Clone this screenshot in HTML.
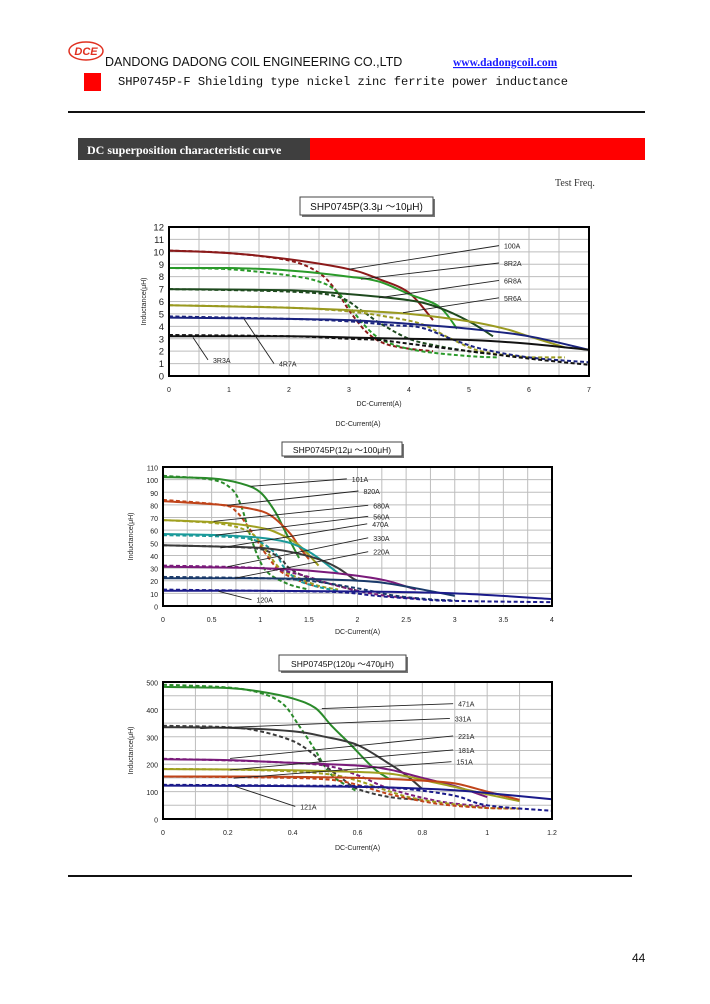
<!DOCTYPE html>
<html><head><meta charset="utf-8"><style>
html,body{margin:0;padding:0;background:#fff;}
svg{display:block;}
</style></head><body>
<svg id="pg" width="710" height="1004" viewBox="0 0 710 1004" xmlns="http://www.w3.org/2000/svg">
  <g>
    <ellipse cx="86" cy="51" rx="17" ry="9" fill="#fff" stroke="#e03020" stroke-width="1.5"/>
    <text x="86" y="55" font-family="Liberation Sans, sans-serif" font-size="11" font-weight="bold" font-style="italic" fill="#e03020" text-anchor="middle">DCE</text>
    <text x="105" y="66" font-family="Liberation Sans, sans-serif" font-size="12.5" fill="#111">DANDONG DADONG COIL ENGINEERING CO.,LTD</text>
    <text x="453" y="66" font-family="Liberation Serif, serif" font-size="11.5" font-weight="bold" fill="#1a1aff" text-decoration="underline">www.dadongcoil.com</text>
    <rect x="84" y="73" width="17" height="18" fill="#ff0000"/>
    <text x="118" y="85" font-family="Liberation Mono, monospace" font-size="12.1" fill="#111">SHP0745P-F  Shielding type nickel zinc ferrite power inductance</text>
    <rect x="68" y="111" width="577" height="2" fill="#111"/>
    <rect x="78" y="138" width="232" height="22" fill="#3f3f3f"/>
    <rect x="310" y="138" width="335" height="22" fill="#ff0000"/>
    <text x="87" y="154" font-family="Liberation Serif, serif" font-size="12" font-weight="bold" fill="#fff">DC superposition characteristic curve</text>
    <text x="555" y="186" font-family="Liberation Serif, serif" font-size="10" fill="#333">Test  Freq.</text>
  </g>
  <g id="charts"></g>
  <rect x="68" y="875" width="564" height="2" fill="#111"/>
  <text x="632" y="962" font-family="Liberation Sans, sans-serif" font-size="12" fill="#111">44</text>
</svg>
<script>
// ===== Chart 1 data (3.3uH ~ 10uH) =====
const c1Names = ["100A","8R2A","6R8A","5R6A","4R7A","3R3A"];
const c1Colors = ["#8b1a1a","#2a9a2a","#1e4a1e","#9a9a20","#1a237e","#111111"];
const c1SolidX = [[0,1,2,3,3.5,4,4.4],[0,1,2,3,3.5,4,4.5,4.8],[0,2,3,4,4.5,5,5.4],[0,2,3,4,5,5.6,6,6.6],[0,2,3,4,5,6,7],[0,2,3,4,5,6,7]];
const c1SolidY = [[10.1,9.9,9.4,8.6,7.8,6.7,4.5],[8.7,8.7,8.5,8.0,7.6,6.6,5.6,3.8],[7,6.9,6.6,6.1,5.5,4.4,3.2],[5.7,5.5,5.3,5.0,4.4,3.8,3.2,2.3],[4.7,4.6,4.5,4.2,3.8,3.2,2.1],[3.2,3.2,3.1,3.0,2.9,2.6,2.1]];
const c1DashX = [[0,1,2,2.5,2.8,3,3.3,3.6,4,4.4],[0,1,2,2.5,2.8,3.1,3.4,3.7,4.2,5,5.5],[0,2,2.8,3.2,3.5,4,4.5,5,5.3],[0,2,3,3.6,4.2,4.7,5.2,6,6.6],[0,2,3,3.7,4.2,4.7,5.2,6,7],[0,2,3,3.5,4,5,6,7]];
const c1DashY = [[10.1,9.9,9.3,8.3,6.8,5.3,3.5,2.6,2.2,2.0],[8.7,8.6,8.1,7.6,6.8,5.0,3.4,2.6,2.0,1.6,1.5],[7,6.8,6.4,5.3,4.3,3.0,2.4,2.0,1.8],[5.7,5.5,5.2,4.8,4.2,3.0,2.0,1.5,1.5],[4.8,4.6,4.4,4.1,3.9,3.0,2.2,1.5,1.1],[3.3,3.2,3.0,2.9,2.6,2.0,1.4,0.9]];
const c1Lead = [[3.0,8.6,5.5,10.5],[3.2,7.8,5.5,9.1],[3.5,6.3,5.5,7.7],[3.9,5.1,5.5,6.3],[1.25,4.6,1.75,1.0],[0.4,3.1,0.65,1.3]];
const c1XTicks = [0,1,2,3,4,5,6,7];
const c1YTicks = [0,1,2,3,4,5,6,7,8,9,10,11,12];

// ===== Chart 2 data (12uH ~ 100uH) =====
const c2Names = ["101A","820A","680A","560A","470A","330A","220A","120A"];
const c2Colors = ["#2a8a2a","#c0441a","#a0a020","#1a9a9a","#3a3a3a","#7a1a7a","#1a3a6a","#1a1a8a"];
const c2SolidX = [[0,0.5,0.8,1,1.15,1.25,1.35,1.4],[0,0.6,0.9,1.1,1.3,1.4,1.5],[0,0.6,1,1.2,1.4,1.6],[0,0.6,1,1.3,1.5,1.65,1.8],[0,0.6,1,1.3,1.6,1.8,1.95,2],[0,1,1.5,2,2.3,2.6],[0,1,1.7,2.2,2.6,3],[0,1,2,3,4]];
const c2SolidY = [[102,101,97,90,75,60,45,38],[83,80,77,72,58,47,37],[68,66,62,57,48,32],[57,56,54,50,43,35,26],[48,47,46,43,37,30,22,20],[31,30,28,24,20,13],[22,22,21,19,14,8],[12,12,11.5,10,5.5]];
const c2DashX = [[0,0.5,0.7,0.8,0.9,1,1.1,1.3,1.5],[0,0.6,0.75,0.9,1.05,1.2,1.4,1.6],[0,0.6,0.9,1.05,1.2,1.4,1.6,1.8],[0,0.6,0.95,1.15,1.25,1.4,1.6,1.8],[0,0.6,1,1.2,1.3,1.5,1.8,2],[0,1,1.4,1.7,2,2.3,2.6],[0,1,1.5,2,2.4,2.8,3],[0,1,1.8,2.2,2.7,3,4]];
const c2DashY = [[103,100,93,80,55,35,25,17,13],[84,80,75,60,42,28,20,15],[68,65,58,45,30,22,16,13],[56,55,52,42,30,20,15,12],[48,47,45,38,30,22,16,12],[32,30,25,18,12,8,6],[23,22,20,14,8,5,4.5],[13,12,11,8,5,4,3]];
const c2Lead = [[0.9,94.7,1.89,100.6],[0.66,79.7,2.01,91],[0.52,67,2.11,79.7],[0.54,56,2.11,71],[0.59,46,2.1,65],[0.66,31,2.11,54],[0.74,22,2.11,43],[0.57,11.6,0.91,5]];
const c2XTicks = [0,0.5,1,1.5,2,2.5,3,3.5,4];
const c2YTicks = [0,10,20,30,40,50,60,70,80,90,100,110];

// ===== Chart 3 data (120uH ~ 470uH) =====
const c3Names = ["471A","331A","221A","181A","151A","121A"];
const c3Colors = ["#2a8a2a","#3a3a3a","#7a1a7a","#a0a020","#c0441a","#1a1a8a"];
const c3SolidX = [[0,0.2,0.3,0.4,0.47,0.52,0.58,0.62,0.66,0.7],[0,0.2,0.4,0.5,0.6,0.7,0.75,0.8],[0,0.2,0.4,0.6,0.7,0.8,0.9,1.0],[0,0.3,0.5,0.7,0.85,1.0,1.1],[0,0.3,0.6,0.8,0.9,1.0,1.1],[0,0.4,0.7,0.9,1.0,1.2]];
const c3SolidY = [[482,478,465,440,405,340,270,220,175,145],[335,333,320,300,270,200,160,110],[218,215,205,195,180,150,120,80],[182,180,175,165,130,90,65],[155,155,150,140,130,100,70],[122,120,115,105,95,72]];
const c3DashX = [[0,0.2,0.3,0.37,0.42,0.47,0.5,0.53,0.57,0.6],[0,0.2,0.3,0.4,0.46,0.5,0.55,0.6,0.7,0.8],[0,0.3,0.5,0.6,0.7,0.85,1.0],[0,0.3,0.5,0.6,0.7,0.8,1.0,1.1],[0,0.3,0.5,0.6,0.7,0.85,1.0,1.1],[0,0.4,0.6,0.75,0.9,1.0,1.2]];
const c3DashY = [[490,480,460,420,340,250,190,150,120,100],[340,335,320,285,240,195,150,110,80,70],[220,210,195,160,110,65,45],[183,178,165,140,100,70,40,38],[155,152,145,125,90,55,40,38],[125,122,120,110,85,50,30]];
const c3Lead = [[0.49,403,0.895,421],[0.115,330,0.885,367],[0.207,221,0.895,303],[0.207,179,0.895,252],[0.218,149,0.89,209],[0.223,119,0.408,46]];
const c3XTicks = [0,0.2,0.4,0.6,0.8,1,1.2];
const c3YTicks = [0,100,200,300,400,500];

const NS = "http://www.w3.org/2000/svg";
const root = document.getElementById('charts');
function mk(tag, attrs, parent){
  const e = document.createElementNS(NS, tag);
  for (const k in attrs) e.setAttribute(k, attrs[k]);
  parent.appendChild(e);
  return e;
}
function clampY(v, a, b){ const lo = Math.min(a,b), hi = Math.max(a,b); return Math.max(lo, Math.min(hi, v)); }
function smoothPath(pts){
  let d = "M" + pts[0][0].toFixed(1) + "," + pts[0][1].toFixed(1);
  for (let i = 0; i < pts.length - 1; i++){
    const p0 = pts[i-1] || pts[i], p1 = pts[i], p2 = pts[i+1], p3 = pts[i+2] || p2;
    const c1x = p1[0] + (p2[0]-p0[0])/6, c1y = clampY(p1[1] + (p2[1]-p0[1])/6, p1[1], p2[1]);
    const c2x = p2[0] - (p3[0]-p1[0])/6, c2y = clampY(p2[1] - (p3[1]-p1[1])/6, p1[1], p2[1]);
    d += " C" + c1x.toFixed(1)+","+c1y.toFixed(1)+" "+c2x.toFixed(1)+","+c2y.toFixed(1)+" "+p2[0].toFixed(1)+","+p2[1].toFixed(1);
  }
  return d;
}
function drawChart(cfg){
  const g = mk('g', {}, root);
  
  
  const sx = v => cfg.L + (v - cfg.xMin)/(cfg.xMax - cfg.xMin)*(cfg.R - cfg.L);
  const sy = v => cfg.B - (v - cfg.yMin)/(cfg.yMax - cfg.yMin)*(cfg.B - cfg.T);
  const sh = mk('rect', {x:cfg.tb[0]+2, y:cfg.tb[1]+2, width:cfg.tb[2], height:cfg.tb[3], fill:'#777'}, g);
  
  
  const tbx = mk('rect', {x:cfg.tb[0], y:cfg.tb[1], width:cfg.tb[2], height:cfg.tb[3], fill:'#fff', stroke:'#444', 'stroke-width':1}, g);
  
  
  const tt = mk('text', {x:cfg.tb[0]+cfg.tb[2]/2, y:cfg.tb[1]+cfg.tb[3]/2+4, 'font-family':'Liberation Sans, "Noto Sans CJK JP", sans-serif', 'font-size':cfg.tfs, 'text-anchor':'middle', fill:'#111'}, g);
  tt.textContent = cfg.title;
  
  
  for (let v = cfg.xMin; v <= cfg.xMax + 1e-9; v += cfg.gx){
    const l = mk('line', {x1:sx(v), x2:sx(v), y1:cfg.T, y2:cfg.B, stroke:'#bdbdbd', 'stroke-width':1}, g);
    
    
  }
  for (let v = cfg.yMin; v <= cfg.yMax + 1e-9; v += cfg.gy){
    const l = mk('line', {x1:cfg.L, x2:cfg.R, y1:sy(v), y2:sy(v), stroke:'#bdbdbd', 'stroke-width':1}, g);
    
    
  }
  cfg.xt.forEach(v => {
    const t = mk('text', {x:sx(v), y:cfg.B+cfg.xto, 'font-family':'Liberation Sans, sans-serif', 'font-size':cfg.fs, 'text-anchor':'middle', fill:'#222'}, g);
    t.textContent = String(v);
    
    
  });
  cfg.yt.forEach(v => {
    const t = mk('text', {x:cfg.L-5, y:sy(v)+3.5, 'font-family':'Liberation Sans, sans-serif', 'font-size':cfg.yfs, 'text-anchor':'end', fill:'#222'}, g);
    t.textContent = String(v);
    
    
  });
  const xtl = mk('text', {x:(cfg.L+cfg.R)/2, y:cfg.xty, 'font-family':'Liberation Sans, sans-serif', 'font-size':7, 'text-anchor':'middle', fill:'#222'}, g);
  xtl.textContent = 'DC-Current(A)';
  
  
  const ytl = mk('text', {x:cfg.ytx, y:(cfg.T+cfg.B)/2, 'font-family':'Liberation Sans, "Noto Sans CJK JP", sans-serif', 'font-size':7, 'text-anchor':'middle', fill:'#222', transform:'rotate(-90 '+cfg.ytx+' '+((cfg.T+cfg.B)/2)+')'}, g);
  ytl.textContent = 'Inductance(μH)';
  
  
  cfg.names.forEach((nm, i) => {
    const dp = cfg.dx[i].map((x, j) => [sx(x), sy(cfg.dy[i][j])]);
    const pd = mk('path', {d:smoothPath(dp), fill:'none', stroke:cfg.colors[i], 'stroke-width':2, 'stroke-dasharray':'4,2.5'}, g);
    
    
    const sp = cfg.sxs[i].map((x, j) => [sx(x), sy(cfg.sys[i][j])]);
    const ps = mk('path', {d:smoothPath(sp), fill:'none', stroke:cfg.colors[i], 'stroke-width':2}, g);
    
    
  });
  cfg.names.forEach((nm, i) => {
    const ld = cfg.lead[i];
    const l = mk('line', {x1:sx(ld[0]), y1:sy(ld[1]), x2:sx(ld[2]), y2:sy(ld[3]), stroke:'#222', 'stroke-width':0.9}, g);
    
    
    const t = mk('text', {x:sx(ld[2])+5, y:sy(ld[3])+3, 'font-family':'Liberation Sans, sans-serif', 'font-size':7, fill:'#222'}, g);
    t.textContent = nm;
    
    
  });
  const fr = mk('rect', {x:cfg.L, y:cfg.T, width:cfg.R-cfg.L, height:cfg.B-cfg.T, fill:'none', stroke:'#000', 'stroke-width':2}, g);
  
  
}
drawChart({id:'chart-3r3-10uh', title:'SHP0745P(3.3μ ～10μH)', tb:[300,197,133,18], tfs:10,
  L:169, R:589, T:227, B:376, xMin:0, xMax:7, yMin:0, yMax:12, gx:0.5, gy:1,
  xt:c1XTicks, yt:c1YTicks, fs:7, yfs:9.5, xto:16, xty:406, ytx:146,
  names:c1Names, colors:c1Colors, sxs:c1SolidX, sys:c1SolidY, dx:c1DashX, dy:c1DashY, lead:c1Lead});
(function(){
  const t = mk('text', {x:358, y:426, 'font-family':'Liberation Sans, sans-serif', 'font-size':7, 'text-anchor':'middle', fill:'#222'}, root);
  t.textContent = 'DC-Current(A)';
  
  
})();
drawChart({id:'chart-12-100uh', title:'SHP0745P(12μ ～100μH)', tb:[282,442,120,14], tfs:8.5,
  L:163, R:552, T:467, B:606, xMin:0, xMax:4, yMin:0, yMax:110, gx:0.25, gy:10,
  xt:c2XTicks, yt:c2YTicks, fs:7, yfs:7, xto:16, xty:634, ytx:133,
  names:c2Names, colors:c2Colors, sxs:c2SolidX, sys:c2SolidY, dx:c2DashX, dy:c2DashY, lead:c2Lead});
drawChart({id:'chart-120-470uh', title:'SHP0745P(120μ ～470μH)', tb:[279,655,127,16], tfs:8.5,
  L:163, R:552, T:682, B:819, xMin:0, xMax:1.2, yMin:0, yMax:500, gx:0.1, gy:50,
  xt:c3XTicks, yt:c3YTicks, fs:7, yfs:7, xto:16, xty:850, ytx:133,
  names:c3Names, colors:c3Colors, sxs:c3SolidX, sys:c3SolidY, dx:c3DashX, dy:c3DashY, lead:c3Lead});
</script>
</body></html>
